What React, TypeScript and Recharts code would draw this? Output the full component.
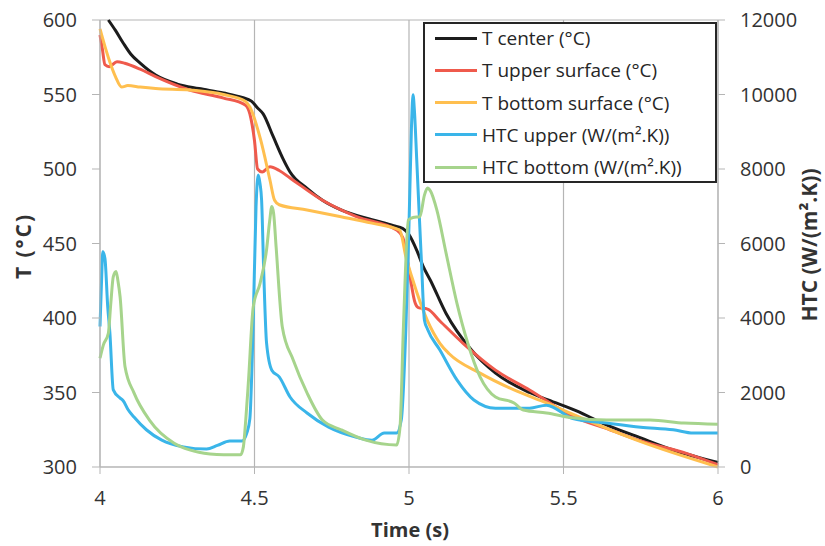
import React from 'react';
import { ComposedChart, Line, XAxis, YAxis, CartesianGrid, Legend } from 'recharts';

// ---- data (time in s, temperature in °C, HTC in W/(m².K)) ----
const tCenter: [number, number][] = [
  [4.027, 600], [4.05, 593], [4.075, 584.6], [4.1, 577], [4.13, 571], [4.18, 563], [4.25, 557],
  [4.32, 554], [4.4, 551], [4.46, 548], [4.49, 545.5], [4.51, 541], [4.528, 537], [4.56, 522],
  [4.592, 507], [4.615, 498], [4.67, 487], [4.72, 479], [4.78, 472.5], [4.88, 466], [4.95, 462],
  [4.98, 460], [5.0, 456], [5.026, 445], [5.045, 435], [5.07, 425], [5.12, 403], [5.2, 379],
  [5.28, 363], [5.39, 350], [5.45, 345], [5.55, 337], [5.62, 330], [5.75, 319.5], [5.855, 311.4],
  [6.0, 303],
];
const tUpper: [number, number][] = [
  [4.0, 590], [4.008, 580], [4.016, 570], [4.03, 568.7], [4.055, 572], [4.08, 571], [4.13, 567],
  [4.18, 562], [4.29, 553], [4.4, 547.6], [4.47, 543], [4.485, 537], [4.5, 519], [4.51, 500],
  [4.525, 498], [4.55, 501.5], [4.58, 499], [4.615, 494], [4.72, 479], [4.83, 468], [4.96, 459],
  [4.98, 454], [5.0, 432], [5.02, 410], [5.03, 407], [5.06, 406], [5.1, 398], [5.175, 383],
  [5.28, 365], [5.39, 351.7], [5.53, 334], [5.65, 325], [5.75, 317.5], [5.9, 309], [6.0, 301.5],
];
const tBottom: [number, number][] = [
  [4.0, 594], [4.015, 583], [4.03, 573], [4.05, 562], [4.07, 555], [4.09, 556], [4.13, 555],
  [4.18, 554], [4.29, 553], [4.4, 550], [4.47, 545.5], [4.485, 541.6], [4.52, 519.5], [4.55, 492.6],
  [4.565, 479], [4.58, 476], [4.67, 472.5], [4.78, 468], [4.88, 463.7], [4.97, 459], [4.99, 441],
  [5.01, 427], [5.06, 398], [5.1, 383], [5.13, 376], [5.23, 363], [5.34, 351.7], [5.445, 343],
  [5.55, 333.6], [5.75, 317], [6.0, 300],
];
const htcUpper: [number, number][] = [
  [4.0, 3770], [4.005, 5000], [4.009, 5780], [4.016, 5600], [4.025, 4300], [4.032, 3600],
  [4.043, 2070], [4.065, 1850], [4.075, 1780], [4.09, 1550], [4.11, 1340], [4.15, 1000],
  [4.2, 720], [4.27, 540], [4.345, 480], [4.38, 580], [4.42, 700], [4.46, 700], [4.475, 910],
  [4.485, 1300], [4.495, 3600], [4.505, 7000], [4.512, 7840], [4.518, 7600], [4.523, 7160],
  [4.53, 5200], [4.539, 3330], [4.556, 2600], [4.58, 2420], [4.615, 1880], [4.67, 1450],
  [4.74, 1070], [4.83, 800], [4.88, 720], [4.92, 910], [4.96, 910], [4.975, 1260], [4.99, 3760],
  [5.0, 6500], [5.008, 9130], [5.013, 9990], [5.018, 9500], [5.025, 8250], [5.04, 5560],
  [5.05, 3940], [5.06, 3700], [5.1, 3140], [5.155, 2340], [5.21, 1800], [5.28, 1580], [5.39, 1580],
  [5.445, 1660], [5.53, 1300], [5.64, 1180], [5.75, 1070], [5.855, 1000], [5.92, 910], [6.0, 910],
];
const htcBottom: [number, number][] = [
  [4.0, 2920], [4.011, 3280], [4.027, 3590], [4.035, 4400], [4.043, 5110], [4.052, 5250],
  [4.058, 5000], [4.065, 4570], [4.081, 2690], [4.11, 1990], [4.16, 1260], [4.24, 640],
  [4.29, 460], [4.356, 350], [4.4, 330], [4.455, 330], [4.464, 540], [4.472, 1300], [4.48, 2250],
  [4.496, 4300], [4.518, 4930], [4.539, 5830], [4.549, 6600], [4.556, 6990], [4.562, 6800],
  [4.57, 5900], [4.59, 3760], [4.625, 2880], [4.67, 1990], [4.72, 1260], [4.78, 1000], [4.86, 720],
  [4.96, 590], [4.971, 1080], [4.982, 3770], [4.998, 6630], [5.013, 6700], [5.035, 6720],
  [5.05, 7300], [5.06, 7490], [5.07, 7400], [5.09, 6900], [5.12, 5740], [5.155, 4400],
  [5.19, 3330], [5.23, 2420], [5.28, 1880], [5.34, 1720], [5.37, 1530], [5.445, 1450],
  [5.53, 1320], [5.64, 1260], [5.78, 1260], [5.89, 1180], [6.0, 1150],
];

const xTicks = [4, 4.5, 5, 5.5, 6];
const tTicks = [300, 350, 400, 450, 500, 550, 600];
const htcTicks = [0, 2000, 4000, 6000, 8000, 10000, 12000];

const seriesNames = [
  'T center (°C)',
  'T upper surface (°C)',
  'T bottom surface (°C)',
  'HTC upper (W/(m².K))',
  'HTC bottom (W/(m².K))',
];
const seriesColors = ['#1c1c1c', '#EF5A4C', '#FFBF4F', '#3AB5E9', '#A6D48C'];
const seriesAxes = ['left', 'left', 'left', 'right', 'right'];
const seriesData = [tCenter, tUpper, tBottom, htcUpper, htcBottom].map((s) =>
  s.map(([t, v]) => ({ t, v }))
);

const FONT = '"Open Sans", sans-serif';
const GRID = '#b5b5b5';
const TEXT = '#333333';

const renderLegend = () => (
  <div
    style={{
      position: 'relative',
      boxSizing: 'border-box',
      width: 294,
      height: 161,
      border: '2px solid #262626',
      background: '#ffffff',
      fontFamily: FONT,
      fontSize: 19,
      color: '#262626',
    }}
  >
    {seriesNames.map((name, i) => (
      <div
        key={name}
        style={{
          position: 'absolute',
          left: 10,
          top: i * 32.3 - 2,
          height: 32,
          display: 'flex',
          alignItems: 'center',
          whiteSpace: 'nowrap',
        }}
      >
        <div style={{ width: 42, height: 3, background: seriesColors[i] }} />
        <span style={{ marginLeft: 5, lineHeight: '32px' }}>{name}</span>
      </div>
    ))}
  </div>
);

const LeftTitle = () => (
  <text
    x={23}
    y={246}
    transform="rotate(-90 23 246)"
    textAnchor="middle"
    dominantBaseline="central"
    fontFamily={FONT}
    fontWeight="bold"
    fontSize={21}
    letterSpacing={2}
    fill={TEXT}
  >
    T (°C)
  </text>
);

const RightTitle = () => (
  <text
    x={809}
    y={245}
    transform="rotate(-90 809 245)"
    textAnchor="middle"
    dominantBaseline="central"
    fontFamily={FONT}
    fontWeight="bold"
    fontSize={21}
    fill={TEXT}
  >
    HTC (W/(m².K))
  </text>
);

const BottomTitle = () => (
  <text
    x={410}
    y={529}
    textAnchor="middle"
    dominantBaseline="central"
    fontFamily={FONT}
    fontWeight="bold"
    fontSize={20}
    fill={TEXT}
  >
    Time (s)
  </text>
);

export default function App() {
  const tickStyle = { fontFamily: FONT, fontSize: 20, fill: TEXT };
  return (
    <div style={{ position: 'absolute', left: 0, top: 0, width: 825, height: 546, background: '#fff' }}>
      <ComposedChart width={825} height={546} margin={{ top: 20, right: 0, bottom: 0, left: 0 }}>
        <CartesianGrid stroke={GRID} strokeWidth={1.2} />
        <XAxis
          dataKey="t"
          type="number"
          domain={[4, 6]}
          ticks={xTicks}
          height={79}
          tickSize={7}
          tickMargin={17}
          stroke={GRID}
          tick={tickStyle}
          label={<BottomTitle />}
        />
        <YAxis
          yAxisId="left"
          domain={[300, 600]}
          ticks={tTicks}
          width={100}
          tickSize={8}
          tickMargin={15}
          stroke={GRID}
          tick={tickStyle}
          label={<LeftTitle />}
        />
        <YAxis
          yAxisId="right"
          orientation="right"
          domain={[0, 12000]}
          ticks={htcTicks}
          width={107}
          tickSize={7}
          tickMargin={15}
          stroke={GRID}
          tick={tickStyle}
          label={<RightTitle />}
        />
        {seriesData.map((d, i) => (
          <Line
            key={seriesNames[i]}
            name={seriesNames[i]}
            data={d}
            dataKey="v"
            yAxisId={seriesAxes[i]}
            type="monotone"
            stroke={seriesColors[i]}
            strokeWidth={3}
            dot={false}
            activeDot={false}
            isAnimationActive={false}
          />
        ))}
        <Legend
          layout="vertical"
          align="center"
          verticalAlign="middle"
          content={renderLegend}
          wrapperStyle={{ position: 'absolute', left: 423, top: 22, width: 294, height: 161 }}
        />
      </ComposedChart>
    </div>
  );
}
